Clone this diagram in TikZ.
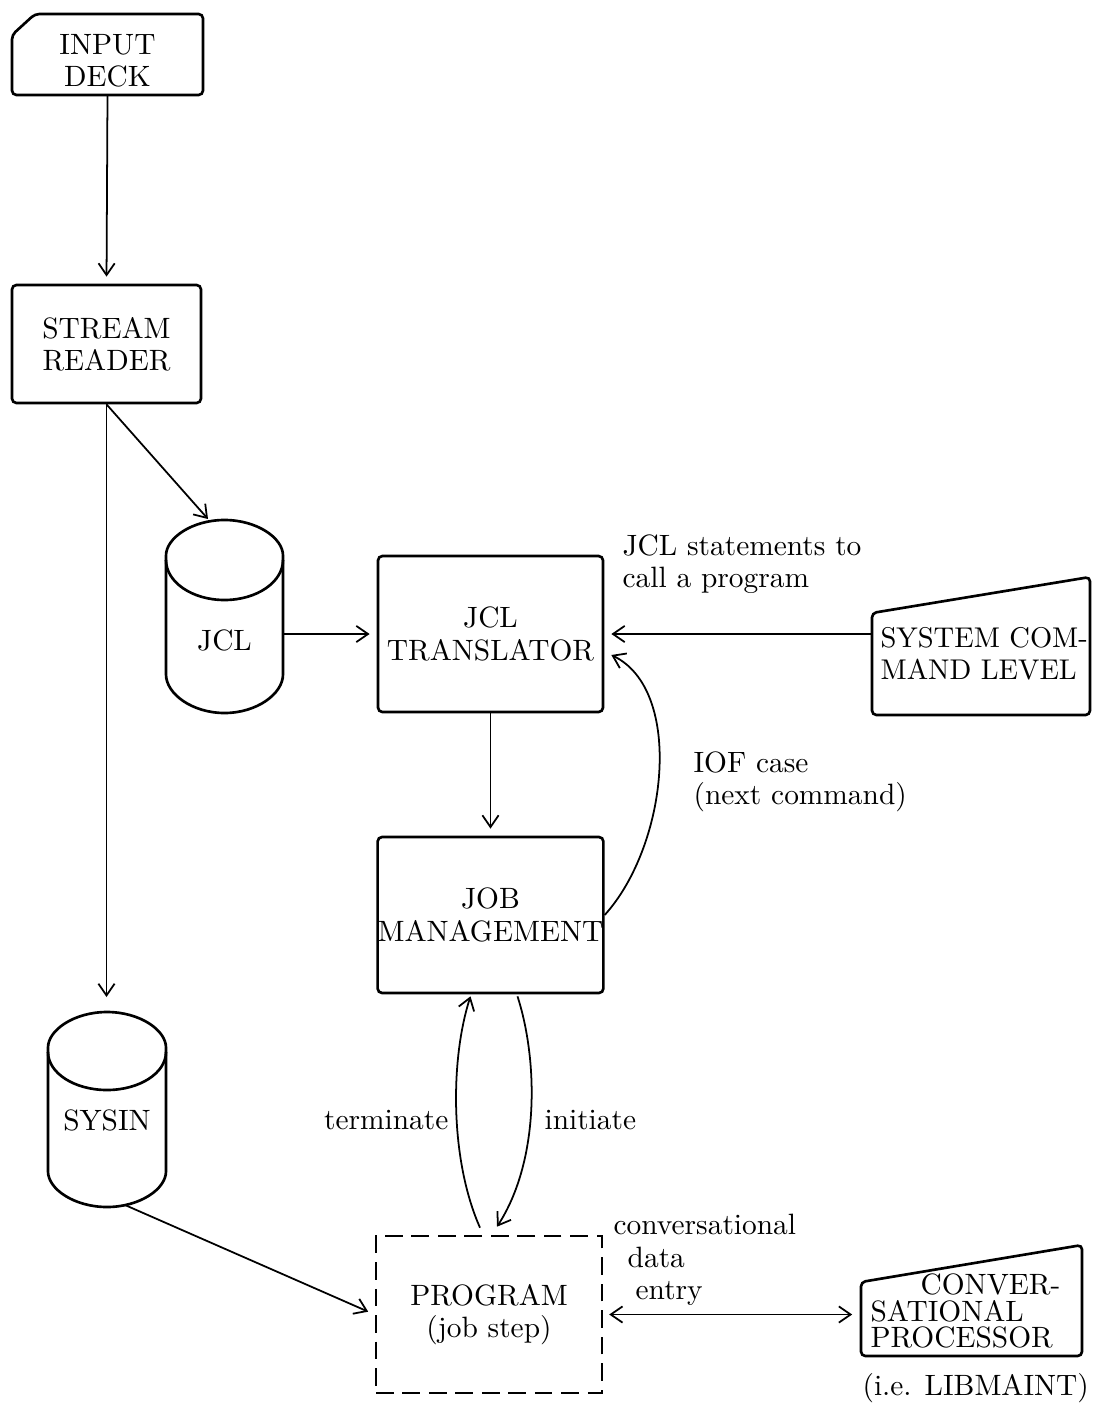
\documentclass[tikz,border=0pt]{standalone}
\usetikzlibrary{arrows.meta}
\newcommand{\pxl}{0.34pt}
\begin{document}
\begin{tikzpicture}[x=\pxl,y=-\pxl,
  >={Straight Barb[length=4pt,width=5.5pt]},
  every node/.style={font=\fontsize{10}{11}\selectfont},
  box/.style={draw, line width=0.9pt, rounded corners=1.5pt, align=center, inner sep=0pt},
  tag/.style={align=left, inner sep=0pt},
  flow/.style={line width=0.6pt},
  gap/.style={shorten >=2.4pt},
  outline/.style={line width=0.9pt, rounded corners=1.5pt}]
\useasboundingbox (0,0) rectangle (1104,1404);

% card and processing boxes
\node (deck) [tag, align=center] at (107.5,61) {INPUT\\DECK};
\draw[outline] ([shift={(-95.5,-26)}]deck.center) -- ([shift={(-72.5,-47)}]deck.center) -- ([shift={(95.5,-47)}]deck.center)
  -- ([shift={(95.5,34)}]deck.center) -- ([shift={(-95.5,34)}]deck.center) -- cycle;

\node (reader) [box, minimum width=189*\pxl, minimum height=118*\pxl] at (106.5,344) {STREAM\\READER};
\node (trans) [box, minimum width=225*\pxl, minimum height=156*\pxl] at (490.5,634) {JCL\\TRANSLATOR};
\node (jobm) [box, minimum width=225*\pxl, minimum height=156*\pxl] at (490.5,915) {JOB\\MANAGEMENT};
\node (prog) [box, rounded corners=0pt, dash pattern=on 6pt off 3pt, minimum width=226*\pxl, minimum height=157*\pxl] at (489,1314.5) {PROGRAM\\(job step)};

% disk files
\node (jcl) [tag, align=center, minimum width=117*\pxl, minimum height=80*\pxl] at (224.5,640) {JCL};
\draw[outline] ([shift={(-58.5,-80)}]jcl.center) arc[start angle=180, end angle=0, x radius=58.5*\pxl, y radius=40*\pxl]
  -- ([shift={(58.5,30)}]jcl.center) arc[start angle=0, end angle=-180, x radius=58.5*\pxl, y radius=43*\pxl] -- cycle;
\draw[outline] ([shift={(-58.5,-80)}]jcl.center) arc[start angle=180, end angle=360, x radius=58.5*\pxl, y radius=40*\pxl];

\node (sysin) [tag, align=center, minimum width=118*\pxl, minimum height=80*\pxl] at (107,1120) {SYSIN};
\draw[outline] ([shift={(-59,-68)}]sysin.center) arc[start angle=180, end angle=0, x radius=59*\pxl, y radius=40*\pxl]
  -- ([shift={(59,47)}]sysin.center) arc[start angle=0, end angle=-180, x radius=59*\pxl, y radius=40*\pxl] -- cycle;
\draw[outline] ([shift={(-59,-68)}]sysin.center) arc[start angle=180, end angle=360, x radius=59*\pxl, y radius=38*\pxl];

% terminals
\node (syscmd) [tag, anchor=west, inner xsep=8*\pxl, font=\fontsize{9.7}{11}\selectfont] at (872,654) {SYSTEM COM-\\MAND LEVEL};
\draw[outline] ([shift={(0,-41)}]syscmd.west) -- ([shift={(218,-77)}]syscmd.west) -- ([shift={(218,61)}]syscmd.west) -- ([shift={(0,61)}]syscmd.west) -- cycle;

\node (conv) [tag, anchor=west, inner xsep=9*\pxl] at (861,1311) {\hspace*{17pt}CONVER-\\[-2pt]SATIONAL\\[-2pt]PROCESSOR};
\draw[outline] ([shift={(0,-29)}]conv.west) -- ([shift={(221,-66)}]conv.west) -- ([shift={(221,45)}]conv.west) -- ([shift={(0,45)}]conv.west) -- cycle;

% labels
\node (stmt) [tag, anchor=west] at (622,564) {JCL statements to\\call a program};
\node (iof) [tag, anchor=west] at (693,782) {IOF case\\(next command)};
\node (term) [tag, anchor=east] at (449,1120) {terminate};
\node (init) [tag, anchor=west] at (544,1120) {initiate};
\node (entry) [tag, anchor=west] at (613,1260) {conversational\\\hspace*{4.8pt}data\\\hspace*{7.5pt}entry};
\node (libm) [tag, anchor=west] at (862,1388) {(i.e. LIBMAINT)};

% connectors
\draw[flow,gap,->] ([shift={(0,34)}]deck.center) -- (reader.north);
\draw[flow,->] (reader.south) -- ([shift={(-16.5,-121)}]jcl.center);
\draw[flow,->] (reader.south) -- ([shift={(-0.5,-123)}]sysin.center);
\draw[flow,gap,->] (jcl.east |- trans.west) -- (trans.west);
\draw[flow,gap,->] (syscmd.west |- trans.east) -- (trans.east);
\draw[flow,gap,->] (trans.south) -- (jobm.north);
\draw[flow,->] (jobm.east) .. controls (668,845) and (684,690) .. ([shift={(7,21)}]trans.east);
\draw[flow,->] ([shift={(-9,-7)}]prog.north) .. controls (450,1160) and (450,1060) .. ([shift={(-20,2)}]jobm.south);
\draw[flow,->] ([shift={(27,2)}]jobm.south) .. controls (538,1060) and (540,1160) .. ([shift={(8,-8)}]prog.north);
\draw[flow,gap,->] ([shift={(18,85)}]sysin.center) -- (prog.west);
\draw[flow,<->,shorten <=2pt,shorten >=3pt] (prog.east) -- (conv.west |- prog.east);
\end{tikzpicture}
\end{document}
